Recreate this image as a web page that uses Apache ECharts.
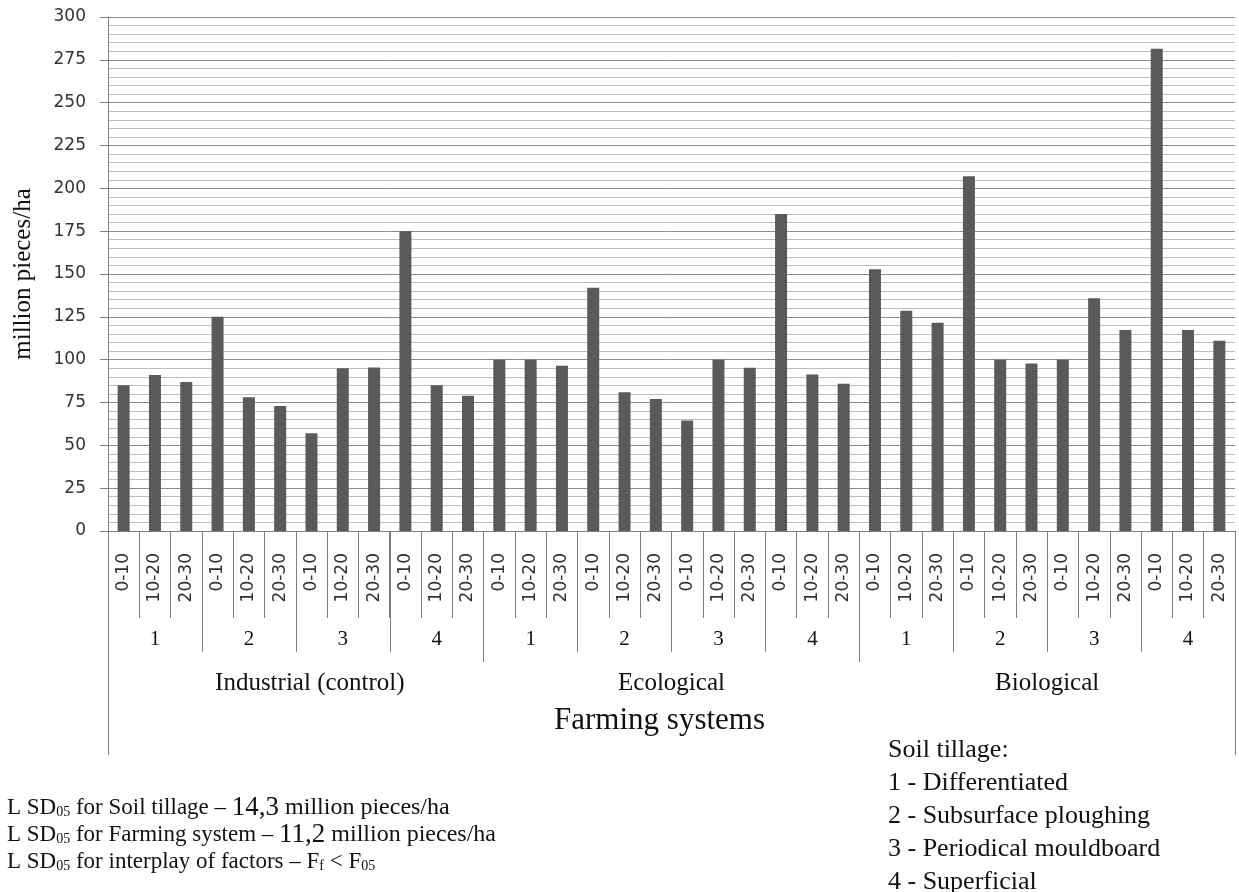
<!DOCTYPE html>
<html>
<head>
<meta charset="utf-8">
<script src="https://cdn.jsdelivr.net/npm/echarts@6/dist/echarts.min.js"></script>
<style>
html,body{margin:0;padding:0;background:#fff;}
#c{width:1239px;height:892px;}
</style>
</head>
<body>
<div id="c"></div>
<script>
// ---- data ----
var depths = ['0-10', '10-20', '20-30'];
var tillages = ['1', '2', '3', '4'];
var systems = ['Industrial (control)', 'Ecological', 'Biological'];
var axisTitle = 'Farming systems';
// values per farming system: tillage 1..4, each depth 0-10, 10-20, 20-30
var industrial = [85, 91, 87, 125, 78, 73, 57, 95, 95.5, 175, 85, 79];
var ecological = [100, 100, 96.5, 142, 81, 77, 64.5, 100, 95.3, 185, 91.4, 86];
var biological = [152.7, 128.6, 121.6, 207, 100, 97.7, 100, 135.8, 117.3, 281.5, 117.3, 111];
var yMin = 0, yMax = 300, yStep = 25;

var legendLines = ['Soil tillage:', '1 - Differentiated', '2 - Subsurface ploughing', '3 - Periodical mouldboard', '4 - Superficial'];

// ---- build category tables ----
var depthCats = [], tillCats = [];
systems.forEach(function () {
  tillages.forEach(function (t) {
    tillCats.push(t);
    depths.forEach(function (d) { depthCats.push(d); });
  });
});
var values = industrial.concat(ecological, biological);
var systemCats = systems.map(function (s, i) {
  return i === 0 ? {value: s, textStyle: {padding: [0, 0, 0, 28]}} : s;
});

var serif = 'Liberation Serif';
var lineCol = '#7f7f7f';

var chart = echarts.init(document.getElementById('c'), null, {renderer: 'canvas'});
chart.setOption({
  animation: false,
  backgroundColor: '#ffffff',
  title: [
    {
      left: 883, top: 729,
      text: legendLines.join('\n'),
      textStyle: {fontFamily: serif, fontSize: 26, fontWeight: 'normal', color: '#111', lineHeight: 33}
    },
    {
      left: 2, top: 789,
      text: '{a|L SD}{s|05}{a| for Soil tillage – }{b|14,3}{c| million pieces/ha}\n' +
            '{a|L SD}{s|05}{a| for Farming system – }{b|11,2}{c| million pieces/ha}\n' +
            '{a|L SD}{s|05}{a| for interplay of factors – F}{s|f}{a| < F}{s|05}',
      textStyle: {
        fontWeight: 'normal',
        rich: {
          a: {fontFamily: serif, fontSize: 23, fontWeight: 'normal', color: '#111', lineHeight: 27},
          s: {fontFamily: serif, fontSize: 14, fontWeight: 'normal', color: '#111', lineHeight: 27, verticalAlign: 'bottom', padding: [0, 0, 2, 0]},
          b: {fontFamily: serif, fontSize: 27, fontWeight: 'normal', color: '#111', lineHeight: 27},
          c: {fontFamily: serif, fontSize: 24, fontWeight: 'normal', color: '#111', lineHeight: 27}
        }
      }
    }
  ],
  grid: {left: 108, right: 4, top: 17, bottom: 361, containLabel: false},
  xAxis: [
    {
      type: 'category', data: depthCats, gridIndex: 0,
      axisLine: {show: true, lineStyle: {color: lineCol, width: 1}},
      axisTick: {show: true, interval: 0, length: 87, lineStyle: {color: lineCol}},
      axisLabel: {interval: 0, rotate: 90, margin: 22, fontFamily: 'DejaVu Sans', fontSize: 17, color: '#333'},
      splitLine: {show: false}
    },
    {
      type: 'category', data: tillCats, gridIndex: 0, position: 'bottom',
      axisLine: {show: false},
      axisTick: {show: true, interval: 0, length: 121, lineStyle: {color: lineCol}},
      axisLabel: {interval: 0, margin: 98, fontFamily: serif, fontSize: 21, color: '#111'},
      splitLine: {show: false}
    },
    {
      type: 'category', data: systemCats, gridIndex: 0, position: 'bottom',
      axisLine: {show: false},
      axisTick: {show: true, interval: 0, length: 131, lineStyle: {color: lineCol}},
      axisLabel: {interval: 0, margin: 140, fontFamily: serif, fontSize: 25, color: '#111'},
      splitLine: {show: false}
    },
    {
      type: 'category', data: [axisTitle], gridIndex: 0, position: 'bottom',
      axisLine: {show: false},
      axisTick: {show: true, interval: 0, length: 224, lineStyle: {color: lineCol}},
      axisLabel: {interval: 0, margin: 174, fontFamily: serif, fontSize: 31, color: '#111', padding: [0, 24, 0, 0]},
      splitLine: {show: false}
    }
  ],
  yAxis: {
    type: 'value', min: yMin, max: yMax, interval: yStep,
    name: 'million pieces/ha', nameLocation: 'middle', nameGap: 72,
    nameTextStyle: {fontFamily: serif, fontSize: 25, color: '#111'},
    axisLine: {show: true, lineStyle: {color: lineCol}},
    axisTick: {show: true, length: 8, lineStyle: {color: lineCol}},
    axisLabel: {margin: 22, fontFamily: 'DejaVu Sans', fontSize: 17, color: '#333'},
    splitLine: {show: true, lineStyle: {color: '#8c8c8c', width: 1}},
    minorTick: {show: false, splitNumber: 5},
    minorSplitLine: {show: true, lineStyle: {color: '#bdbdbd', width: 1}}
  },
  series: [{
    type: 'bar', xAxisIndex: 0, data: values, barWidth: 12,
    itemStyle: {color: '#5a5a5a'}
  }]
});
</script>
</body>
</html>
